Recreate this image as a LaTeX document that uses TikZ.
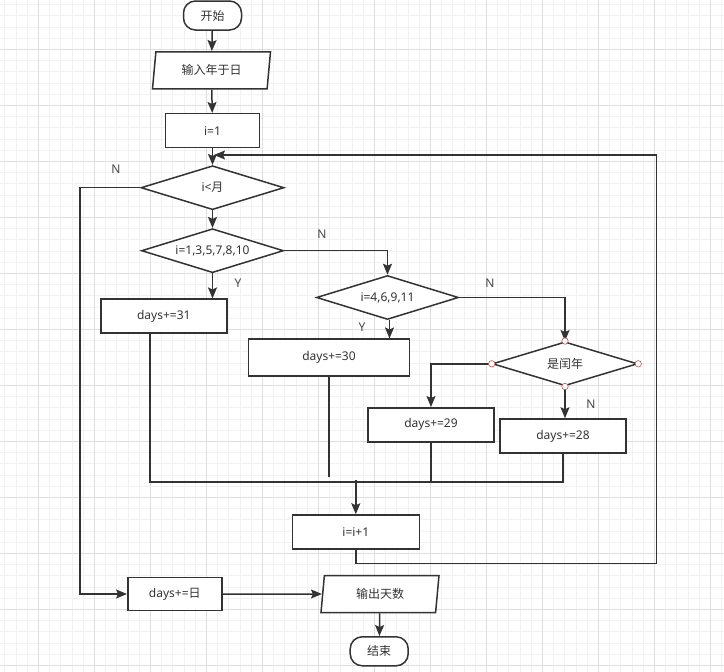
\documentclass[tikz,border=0pt]{standalone}
\usepackage{fontspec}
\setmainfont{Noto Sans}
\newfontfamily\cjk{Noto Sans CJK SC}
\usetikzlibrary{shapes.geometric,arrows.meta}
\definecolor{ink}{HTML}{333333}
\definecolor{gridmajor}{HTML}{DEDEDE}
\definecolor{gridminor}{HTML}{F2F2F2}
\definecolor{portred}{HTML}{B85450}

\begin{document}
\begin{tikzpicture}[x=1pt,y=-1pt,
    every node/.style={font=\fontsize{12}{14}\selectfont, text=ink},
    base/.style={draw=ink, fill=white, line width=1.5pt, inner sep=0pt},
    term/.style={base, rectangle, rounded corners=12pt, minimum width=58, minimum height=29},
    io/.style={base, trapezium, trapezium left angle=73, trapezium right angle=107,
        trapezium stretches body, minimum width=118, minimum height=37},
    proc/.style={base, rectangle, minimum height=34},
    dec/.style={base, diamond, aspect=3.2, minimum width=143, minimum height=44},
    line/.style={draw=ink, line width=1.5pt},
    flow/.style={line, -{Stealth[length=11pt, width=9pt, inset=2pt]}},
    lbl/.style={text=ink!90},
    port/.style={draw=portred, fill=white, line width=0.6pt}]
  \useasboundingbox (0,0) rectangle (724,672);
  % background grid
  \foreach \k in {0,...,66} \draw[gridminor, line width=0.5pt] ({-17.7+11.2*\k},0) -- ++(0,672);
  \foreach \k in {0,...,61} \draw[gridminor, line width=0.5pt] (0,{-6.7+11.2*\k}) -- ++(724,0);
  \foreach \k in {0,...,12} \draw[gridmajor, line width=0.6pt] ({38.3+56*\k},0) -- ++(0,672);
  \foreach \k in {0,...,11} \draw[gridmajor, line width=0.6pt] (0,{49.3+56*\k}) -- ++(724,0);

  % nodes
  \node[term] (start) at (212.5,15.5) {\cjk 开始};
  \node[io] (inp) at (211.5,70.3) {\cjk 输入年于日};
  \node[proc, minimum width=94] (init) at (212.5,130.7) {i=1};
  \node[dec] (cmp) at (212.5,187.7) {i<{\cjk 月}};
  \node[dec, minimum width=142] (big) at (212.5,250.7) {i=1,3,5,7,8,10};
  \node[proc, minimum width=126] (d31) at (163.8,316.2) {days+=31};
  \node[dec, minimum width=142] (mid) at (387.5,297.5) {i=4,6,9,11};
  \node[proc, minimum width=161, minimum height=37] (d30) at (329,357.7) {days+=30};
  \node[dec, minimum width=145] (leap) at (565,363.8) {\cjk 是闰年};
  \node[proc, minimum width=126] (d29) at (431,424.8) {days+=29};
  \node[proc, minimum width=126] (d28) at (563,436) {days+=28};
  \node[proc, minimum width=127] (inc) at (355.8,532) {i=i+1};
  \node[proc, minimum width=94, minimum height=33] (addday) at (174.8,594) {days+={\cjk 日}};
  \node[io] (outp) at (380,594) {\cjk 输出天数};
  \node[term] (stop) at (379.2,651.3) {\cjk 结束};

  % branch labels
  \node[lbl] (nCmp) at (116,169) {N};
  \node[lbl] (nBig) at (322,234) {N};
  \node[lbl] (yBig) at (238,283) {Y};
  \node[lbl] (nMid) at (490,283) {N};
  \node[lbl] (yMid) at (362,327) {Y};
  \node[lbl] (nLeap) at (591,404) {N};

  % bends
  \coordinate (lft) at (80,594);
  \coordinate (m31) at (150,482);
  \coordinate (m28) at (563,482);
  \coordinate (jn) at (355.8,480);
  \coordinate (end30) at (329,477);
  \coordinate (lpB) at (656.7,563.3);
  \coordinate (lpT) at (656.7,155);
  \coordinate (lpE) at (214,155);

  % connectors
  \draw[flow] (start) -- (inp);
  \draw[flow] (inp) -- (init);
  \draw[flow] (init) -- (cmp);
  \draw[flow] (cmp.west) -| (lft) -- (addday);
  \draw[flow] (cmp) -- (big);
  \draw[flow] (big.east) -| (mid.north);
  \draw[flow] (big.south) -- (big.south |- d31.north);
  \draw[flow] ([xshift=2]mid.south) -- ([xshift=2]mid.south |- d30.north);
  \draw[flow] (leap.west) -| (d29.north);
  \draw[flow] (leap.south) -- (leap.south |- d28.north);
  \draw[line] (d31.south -| m31) -- (m31) -- (m28) -- (d28.south -| m28);
  \draw[line] (d29.south) -- (d29.south |- m31);
  \draw[line] (d30.south) -- (end30);
  \draw[flow] (jn) -- (inc);
  \draw[flow] (inc.south) |- (lpB) -- (lpT) -- (lpE);
  \draw[flow] (addday) -- (outp);
  \draw[flow] (outp) -- (stop);
  \draw[flow] (mid.east) -| (leap.north);

  % connection points
  \foreach \a in {north,south,east,west} \draw[port] (leap.\a) circle (3.2);
\end{tikzpicture}
\end{document}
